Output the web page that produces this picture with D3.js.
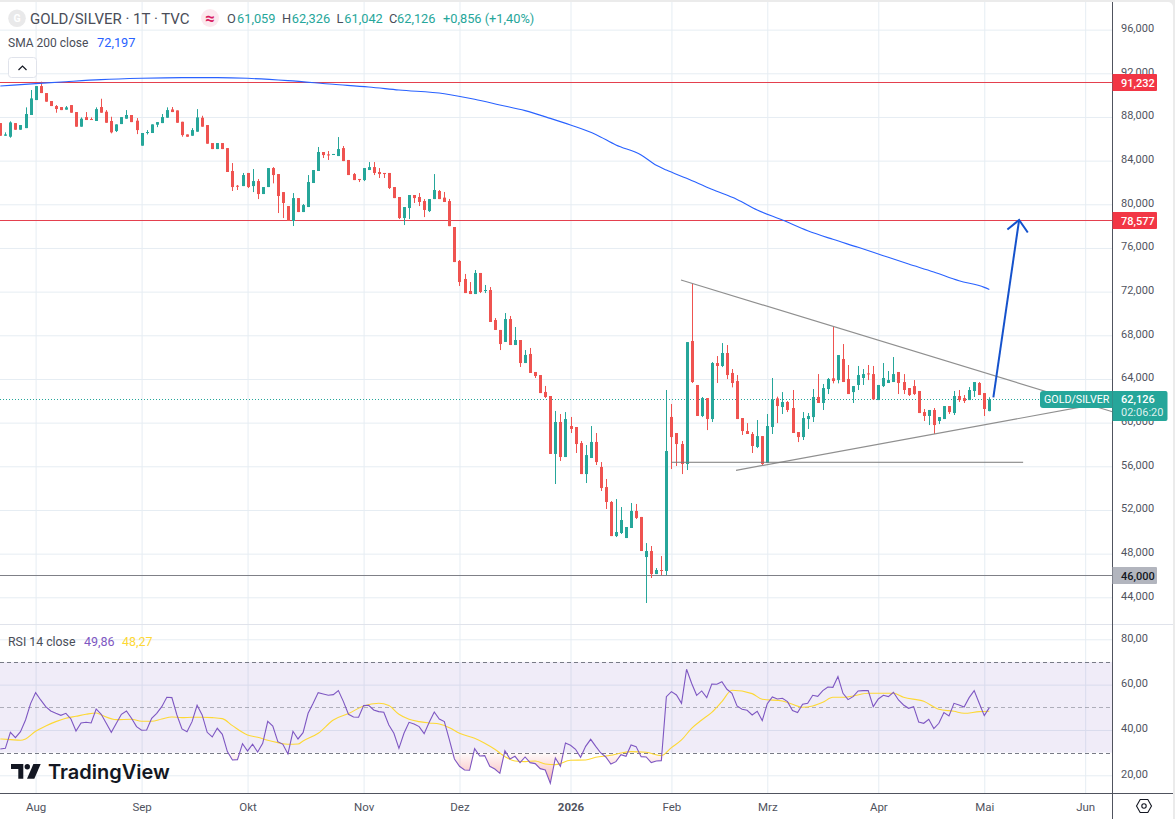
<!DOCTYPE html>
<html>
<head>
<meta charset="utf-8">
<script src="https://cdn.jsdelivr.net/npm/d3@7/dist/d3.min.js"></script>
<style>
  html, body { margin: 0; padding: 0; background: #ebebeb; overflow: hidden; }
  svg { display: block; }
  text { font-family: Roboto, "Liberation Sans", sans-serif; }
  .grid line { stroke: #e6edf3; stroke-width: 1; }
  .grid path { display: none; }
  .axis path { display: none; }
  .axis text { fill: #50535e; font-size: 11px; }
</style>
</head>
<body>
<div id="chart"></div>
<script>
// daily candles, oldest first
const opens = [
  87.44,86.28,86.19,87.44,86.83,86.98,88.18,89.55,90.83,90.19,
  89.46,89.0,88.91,88.67,89.09,88.45,87.11,87.99,87.81,87.63,
  88.91,88.48,87.63,86.71,87.35,87.84,88.18,87.66,85.37,86.56,
  86.53,87.29,87.44,87.93,88.69,88.6,87.56,86.4,86.28,86.65,
  87.93,87.26,85.61,85.06,85.61,85.15,83.05,81.7,81.67,82.87,
  81.67,82.13,80.94,81.58,83.32,82.77,81.12,79.84,78.47,80.57,
  79.29,79.75,81.95,83.05,84.79,84.57,84.54,84.42,85.15,84.06,
  82.77,82.32,82.22,83.14,83.41,82.96,82.87,82.87,81.58,80.67,
  78.74,79.66,80.85,80.67,80.3,79.38,80.48,81.22,80.61,80.3,
  77.92,74.81,73.16,72.06,71.78,73.71,72.09,72.15,69.4,68.49,
  67.39,69.49,67.11,67.57,65.46,66.29,64.64,64.36,62.81,62.44,
  57.13,60.06,56.85,59.69,59.6,58.13,55.29,56.76,58.23,55.94,
  54.1,52.73,49.61,49.89,49.43,50.35,51.91,51.36,47.69,48.24,
  46.13,46.5,46.41,60.52,59.05,58.04,56.21,67.48,63.45,60.61,
  62.25,60.33,65.46,65.19,66.38,64.55,63.81,60.42,59.23,58.96,
  57.77,58.77,56.3,59.6,62.22,61.43,61.89,61.34,59.14,58.68,
  60.33,60.51,62.35,61.8,63.08,64.06,63.9,65.83,64.0,62.8,
  63.45,64.09,64.51,64.45,62.07,63.35,63.63,63.72,64.64,63.72,
  63.17,63.35,62.9,60.97,60.61,61.16,60.15,60.33,61.52,60.88,
  62.44,62.25,62.07,62.9,63.63,62.71,61.059
];
const closes = [
  86.28,86.4,87.5,86.83,87.26,88.27,89.7,90.83,90.19,89.4,
  89.0,88.73,88.63,88.88,88.39,87.11,87.84,87.72,87.75,88.72,
  88.39,87.47,86.59,87.32,87.99,88.18,87.53,86.8,86.53,86.62,
  87.32,87.53,87.99,88.63,88.45,87.47,86.34,86.19,86.8,87.96,
  87.11,85.55,85.06,85.61,85.06,82.96,81.58,81.64,82.68,81.58,
  82.13,80.94,81.58,83.32,82.68,80.76,80.12,78.47,80.57,79.29,
  79.93,82.04,83.14,84.79,84.51,84.51,84.61,85.06,83.96,82.68,
  82.22,82.22,83.32,83.41,82.87,82.77,82.77,81.49,80.57,78.74,
  79.75,80.85,80.57,80.21,79.48,80.48,81.31,80.48,80.21,78.0,
  74.71,72.88,71.87,71.78,73.71,71.97,72.15,69.22,68.49,67.2,
  69.49,67.11,67.57,65.46,66.2,64.55,64.27,62.71,62.35,57.13,
  60.06,56.85,60.33,59.42,58.04,55.29,57.03,58.23,56.39,54.01,
  52.73,49.61,49.98,51.08,50.44,51.91,51.27,48.24,48.24,46.13,
  46.5,46.44,57.4,58.68,58.04,56.21,67.38,63.72,60.61,62.25,
  60.33,65.46,65.19,66.38,64.36,63.63,60.33,59.23,58.96,57.86,
  58.77,56.21,59.69,62.13,61.52,61.89,61.16,59.05,58.68,60.42,
  60.61,62.35,61.8,63.17,64.0,63.81,66.19,63.72,62.62,63.35,
  64.36,64.45,64.45,62.13,63.45,64.09,63.9,64.45,63.63,62.99,
  62.53,62.62,60.88,60.61,61.16,59.78,60.51,61.52,60.97,62.44,
  62.07,61.98,62.99,63.72,62.53,61.25,62.126
];
const highs = [
  87.44,86.59,87.6,87.44,87.26,88.88,90.47,90.83,91.23,90.19,
  89.46,89.09,88.91,89.0,89.09,88.45,87.96,88.45,87.96,88.88,
  89.67,88.63,88.02,87.32,87.99,88.63,88.18,87.9,86.53,86.8,
  87.32,87.53,88.27,88.88,88.91,88.6,87.56,86.4,86.98,88.72,
  88.11,87.26,85.61,85.61,85.61,85.15,83.78,81.77,82.87,82.87,
  83.23,82.32,81.58,83.32,83.41,82.77,81.12,79.84,81.03,80.57,
  80.03,82.68,83.14,85.25,84.79,84.88,84.61,86.16,85.34,84.06,
  82.87,82.32,83.32,83.87,83.87,83.32,82.87,82.87,81.58,80.67,
  79.75,80.85,80.85,81.03,80.48,80.48,82.77,81.31,81.13,80.49,
  77.92,74.9,73.62,72.88,73.98,73.71,72.61,72.42,69.58,68.49,
  70.04,69.77,68.76,67.57,66.65,66.84,64.64,64.36,63.36,62.44,
  61.07,60.79,60.97,60.52,59.6,58.32,57.95,59.69,59.05,56.39,
  54.84,52.82,53.0,52.27,50.44,52.64,52.55,51.36,48.97,48.7,
  46.68,47.78,62.99,61.71,59.05,58.32,67.38,72.76,63.45,62.35,
  62.25,65.55,66.1,67.29,67.11,64.91,64.36,60.42,59.96,59.14,
  60.24,58.77,60.79,64.09,62.38,62.8,61.98,62.99,59.14,60.97,
  60.88,63.08,64.45,63.54,64.09,68.79,66.19,67.2,65.28,63.35,
  65.19,64.91,65.28,65.19,63.45,65.46,64.73,66.01,64.64,64.45,
  63.17,63.9,62.9,61.25,61.16,61.34,60.51,61.52,61.52,62.9,
  62.99,62.53,63.26,63.72,63.72,62.71,62.326
];
const lows = [
  86.28,86.28,86.1,86.83,86.83,86.98,88.18,89.55,90.19,89.4,
  89.0,88.39,88.63,88.67,88.39,87.11,87.11,87.72,87.75,87.63,
  88.39,87.47,86.5,86.62,87.35,87.84,87.53,86.43,85.37,86.4,
  86.53,87.07,87.44,87.93,88.45,87.47,86.19,86.19,86.28,86.65,
  87.11,85.55,85.06,85.06,85.06,82.96,81.22,81.31,81.67,81.49,
  81.12,80.48,80.94,81.58,81.92,79.2,78.74,78.47,78.01,79.29,
  79.29,79.75,81.95,83.05,84.24,84.06,84.54,84.42,83.96,82.68,
  82.22,82.04,82.13,83.14,82.68,82.41,82.41,81.4,80.57,78.65,
  78.1,78.65,80.12,79.84,78.83,79.29,80.48,80.48,80.21,78.0,
  74.71,72.52,71.87,71.78,71.78,71.87,71.87,69.22,68.49,66.65,
  67.39,67.11,67.11,65.1,65.46,64.55,64.09,62.71,62.26,57.13,
  54.38,56.49,56.85,59.05,57.22,55.29,54.47,56.76,56.12,53.74,
  52.09,49.61,49.52,49.8,49.43,50.35,51.17,48.24,43.48,45.77,
  46.13,46.04,46.04,55.75,56.03,55.29,55.66,63.63,60.61,60.51,
  59.32,60.06,63.63,65.09,63.99,63.23,60.33,58.87,58.96,57.22,
  57.67,56.12,56.3,58.96,59.96,60.79,60.97,59.05,58.22,58.41,
  59.42,60.06,61.8,61.16,62.62,63.6,63.6,63.72,62.62,61.8,
  62.99,63.45,63.9,62.13,62.07,63.26,63.63,63.72,62.62,62.62,
  62.44,62.53,60.88,60.15,59.78,58.96,59.87,60.33,60.79,60.7,
  61.89,61.8,62.07,62.35,62.53,60.61,61.042
];

// SMA 200, read at these bars
const smaIndex = [0,7,13,20,28,36,43,49,57,66,73,79,88,94,99,104,109,113,118,122,127,130,132,136,141,146,150,155,160,165,170,175,180,185,190,195,196];
const smaValues = [90.84,91.05,91.23,91.42,91.54,91.6,91.6,91.54,91.33,90.99,90.75,90.47,90.13,89.62,89.1,88.58,87.87,87.26,86.4,85.43,84.52,83.57,83.14,82.38,81.37,80.45,79.48,78.56,77.58,76.79,76.06,75.29,74.53,73.8,73.0,72.39,72.197];

// RSI 14, one per bar
const rsiValues = [
  31.62,31.91,38.97,36.62,39.26,44.41,51.62,56.47,53.24,50.29,
  48.38,47.35,46.47,47.35,44.85,39.56,43.09,43.38,43.09,49.26,
  46.91,42.94,38.97,42.94,46.91,48.38,45.15,41.47,39.85,40.0,
  45.15,47.35,50.29,54.41,54.26,46.62,40.44,39.26,43.68,50.88,
  46.62,38.97,36.91,40.74,38.09,30.44,26.76,26.91,33.97,30.74,
  33.68,30.29,34.12,43.82,41.76,34.85,33.68,29.41,39.41,36.03,
  38.82,47.35,51.76,56.47,55.88,55.29,55.59,57.35,52.5,46.91,
  45.74,45.59,50.74,50.88,48.82,48.09,47.79,42.21,38.53,31.91,
  38.53,43.38,42.65,41.47,38.38,43.38,47.94,44.85,43.68,35.59,
  27.21,23.97,22.35,22.21,31.76,28.53,28.68,23.97,22.79,20.88,
  30.88,27.21,28.38,25.59,28.09,25.59,25.15,22.94,22.35,16.47,
  27.65,23.97,34.26,33.24,31.47,27.94,32.79,35.88,32.79,29.85,
  28.09,25.0,26.03,29.12,28.38,33.38,32.65,28.24,28.09,25.59,
  26.32,26.47,54.71,56.91,55.44,51.76,66.76,60.59,55.29,57.21,
  54.26,60.29,60.15,61.32,57.94,56.18,50.59,49.12,48.68,46.62,
  48.24,44.12,51.62,54.56,53.68,53.97,52.5,48.53,47.65,51.32,
  51.76,55.29,54.85,57.35,58.97,58.82,63.53,56.18,53.38,54.71,
  57.21,57.35,57.35,50.29,53.68,55.29,54.71,56.62,53.24,51.03,
  49.56,50.29,43.53,42.94,44.71,40.59,42.94,47.65,46.18,51.76,
  51.03,50.15,54.26,57.35,51.76,46.32,49.86
];
// RSI-based MA, read at these bars
const rsiMaIndex = [0,2,4,5,7,9,11,13,15,17,19,20,23,26,28,30,32,34,36,38,40,42,44,46,49,51,53,55,57,59,60,63,66,69,72,75,77,79,81,83,85,87,89,91,94,96,98,100,102,104,106,108,110,113,116,118,121,123,125,128,131,133,135,137,139,141,143,145,149,151,155,157,159,161,163,165,167,169,172,174,177,179,183,186,189,191,194,196];
const rsiMaValues = [36.03,35.74,35.44,36.03,39.41,41.76,43.68,45.15,46.03,46.91,47.5,46.62,44.56,44.71,43.82,43.82,44.85,45.74,45.44,45.59,45.59,45.44,45.0,41.91,37.79,36.76,35.44,34.41,33.68,33.82,35.15,38.53,44.41,47.21,50.59,51.76,50.74,46.91,44.71,43.68,43.09,42.65,41.03,38.53,36.32,34.12,31.47,28.24,26.32,26.03,26.32,25.0,24.71,26.62,26.76,27.94,28.82,29.85,30.44,30.15,28.68,32.21,35.59,40.74,44.41,47.79,52.5,57.5,56.03,53.53,52.79,51.32,50.0,50.59,52.21,54.41,54.41,55.0,56.18,56.18,56.18,54.41,52.65,49.12,48.24,47.35,48.09,48.27];

const priceTicks = [96,92,88,84,80,76,72,68,64,60,56,52,48,44];
const rsiTicks = [80,60,40,20];
const rsiBands = [70,50,30];
const monthIndex = [7,28,49,72,91,113,133,152,174,195,215];
const monthLabels = ['Aug','Sep','Okt','Nov','Dez','2026','Feb','Mrz','Apr','Mai','Jun'];

// horizontal levels drawn on the chart
const levelValues = [91.232,78.577,46.0];
const levelColors = ['#e4404e','#e4404e','#7f8087'];

const lastPrice = closes[closes.length - 1];
const lastSma = smaValues[smaValues.length - 1];
const lastRsi = rsiValues[rsiValues.length - 1];
const lastRsiMa = rsiMaValues[rsiMaValues.length - 1];

// trend lines, [bar index, price]
const upperTrend = [[134.9,73.07],[220.4,61.0]];
const lowerTrend = [[145.8,55.63],[217.3,61.69]];
const supportLine = [[133,56.37],[202.7,56.37]];
const arrowLine = [[196.8,62.32],[201.9,78.56]];

const W = 1175, H = 819, paneRight = 1112.5, axisY = 793.5;
const teal = '#26a69a', red = '#ef5350', grey = '#4a4d58';

const comma = d3.formatLocale({ decimal: ',', thousands: '.', grouping: [3], currency: ['', ''] });
const fmt3 = comma.format('.3f');
const fmt2 = comma.format('.2f');

const x = d3.scaleLinear().domain([0, 215]).range([0.3, 1085.2]);
const y = d3.scaleLinear().domain([96, 44]).range([29.63, 597.31]);
const yRsi = d3.scaleLinear().domain([80, 20]).range([639.3, 775.3]);

const svg = d3.select('#chart').append('svg').attr('width', W).attr('height', H);

svg.append('rect').attr('x', -6).attr('y', 2).attr('width', W - 2 + 6).attr('height', H + 6)
  .attr('rx', 5).attr('fill', '#fff');

// grid
svg.append('g').attr('class', 'grid').attr('transform', `translate(0,${axisY})`)
  .call(d3.axisTop(x).tickValues(monthIndex).tickSizeInner(axisY - 2).tickSizeOuter(0).tickFormat(''));
svg.append('g').attr('class', 'grid').attr('transform', `translate(${paneRight},0)`)
  .call(d3.axisLeft(y).tickValues(priceTicks).tickSizeInner(paneRight).tickSizeOuter(0).tickFormat(''));
svg.append('g').attr('class', 'grid').attr('transform', `translate(${paneRight},0)`)
  .call(d3.axisLeft(yRsi).tickValues(rsiTicks).tickSizeInner(paneRight).tickSizeOuter(0).tickFormat(''));

// pane separator
svg.append('line').attr('x1', 0).attr('x2', W - 2).attr('y1', 624.5).attr('y2', 624.5)
  .attr('stroke', '#e0e3eb');

// level lines
svg.append('g').selectAll('line').data(levelValues).join('line')
  .attr('x1', 0).attr('x2', paneRight)
  .attr('y1', (d) => Math.round(y(d)) + 0.5).attr('y2', (d) => Math.round(y(d)) + 0.5)
  .attr('stroke', (d, i) => levelColors[i]).attr('stroke-width', 1);

// last price dotted line
svg.append('line').attr('x1', 0).attr('x2', paneRight)
  .attr('y1', Math.round(y(lastPrice)) + 0.5).attr('y2', Math.round(y(lastPrice)) + 0.5)
  .attr('stroke', teal).attr('stroke-dasharray', '1 2');

// candles
const candles = svg.append('g').selectAll('g').data(opens).join('g')
  .attr('fill', (d, i) => (closes[i] >= d ? teal : red));
candles.append('rect')
  .attr('x', (d, i) => Math.round(x(i)))
  .attr('width', 1)
  .attr('y', (d, i) => y(highs[i]))
  .attr('height', (d, i) => y(lows[i]) - y(highs[i]));
candles.append('rect')
  .attr('x', (d, i) => Math.round(x(i)) - 1)
  .attr('width', 3)
  .attr('y', (d, i) => y(Math.max(d, closes[i])))
  .attr('height', (d, i) => Math.max(1, Math.abs(y(d) - y(closes[i]))));

// SMA 200
svg.append('path').datum(smaIndex)
  .attr('fill', 'none').attr('stroke', '#2962ff').attr('stroke-width', 1.1)
  .attr('d', d3.line().curve(d3.curveMonotoneX).x((d) => x(d)).y((d, i) => y(smaValues[i])));

// drawings
const lineGen = d3.line().x((d) => x(d[0])).y((d) => y(d[1]));
const drawings = svg.append('g').attr('fill', 'none');
drawings.append('path').attr('d', lineGen(upperTrend)).attr('stroke', '#8f8f8f').attr('stroke-width', 1.2);
drawings.append('path').attr('d', lineGen(lowerTrend)).attr('stroke', '#8f8f8f').attr('stroke-width', 1.2);
drawings.append('path').attr('d', lineGen(supportLine)).attr('stroke', '#7a7a7a').attr('stroke-width', 1);
const tip = [x(arrowLine[1][0]), y(arrowLine[1][1])];
drawings.append('path').attr('d', lineGen(arrowLine)).attr('stroke', '#1552cc').attr('stroke-width', 2);
drawings.append('path')
  .attr('d', `M${tip[0] - 11.7},${tip[1] + 9.5}L${tip[0]},${tip[1]}L${tip[0] + 8.7},${tip[1] + 12.5}`)
  .attr('stroke', '#1552cc').attr('stroke-width', 2);

// RSI band
svg.append('rect').attr('x', 0).attr('width', paneRight)
  .attr('y', yRsi(70)).attr('height', yRsi(30) - yRsi(70))
  .attr('fill', '#7e57c2').attr('fill-opacity', 0.115);
svg.append('g').selectAll('line').data(rsiBands).join('line')
  .attr('x1', 0).attr('x2', paneRight)
  .attr('y1', (d) => Math.round(yRsi(d)) + 0.5).attr('y2', (d) => Math.round(yRsi(d)) + 0.5)
  .attr('stroke', '#787b86').attr('stroke-dasharray', '4 3')
  .attr('stroke-opacity', (d) => (d === 50 ? 0.55 : 1));

// oversold fill
const grad = svg.append('defs').append('linearGradient').attr('id', 'oversold')
  .attr('gradientUnits', 'userSpaceOnUse')
  .attr('x1', 0).attr('x2', 0).attr('y1', yRsi(30)).attr('y2', yRsi(17));
grad.append('stop').attr('offset', 0).attr('stop-color', '#ef5350').attr('stop-opacity', 0.02);
grad.append('stop').attr('offset', 1).attr('stop-color', '#ef5350').attr('stop-opacity', 0.42);
svg.append('path').datum(rsiValues).attr('fill', 'url(#oversold)')
  .attr('d', d3.area().x((d, i) => x(i)).y0(yRsi(30)).y1((d) => yRsi(Math.min(d, 30))));

// RSI MA and RSI
svg.append('path').datum(rsiMaIndex)
  .attr('fill', 'none').attr('stroke', '#fdd835').attr('stroke-width', 1.1)
  .attr('d', d3.line().curve(d3.curveMonotoneX).x((d) => x(d)).y((d, i) => yRsi(rsiMaValues[i])));
svg.append('path').datum(rsiValues)
  .attr('fill', 'none').attr('stroke', '#7e57c2').attr('stroke-width', 1.1)
  .attr('d', d3.line().x((d, i) => x(i)).y((d) => yRsi(d)));

// axes
const priceAxis = svg.append('g').attr('class', 'axis').attr('transform', `translate(${paneRight},0)`)
  .call(d3.axisRight(y).tickValues(priceTicks).tickSize(0).tickPadding(8.5).tickFormat(fmt3));
const rsiAxis = svg.append('g').attr('class', 'axis').attr('transform', `translate(${paneRight},0)`)
  .call(d3.axisRight(yRsi).tickValues(rsiTicks).tickSize(0).tickPadding(8.5).tickFormat(fmt2));
priceAxis.selectAll('text').attr('dy', '0.18em');
rsiAxis.selectAll('text').attr('dy', '0.18em');
const timeAxis = svg.append('g').attr('class', 'axis').attr('transform', `translate(0,${axisY})`)
  .call(d3.axisBottom(x).tickValues(monthIndex).tickSize(0).tickPadding(9)
    .tickFormat((d, i) => monthLabels[i]));
timeAxis.selectAll('text').style('font-size', '11.5px');
timeAxis.selectAll('text').filter((d, i) => monthLabels[i] === '2026').attr('font-weight', 700);

svg.append('line').attr('x1', paneRight).attr('x2', paneRight).attr('y1', 2).attr('y2', H)
  .attr('stroke', '#50535e');
svg.append('line').attr('x1', 0).attr('x2', W - 2).attr('y1', axisY).attr('y2', axisY)
  .attr('stroke', '#50535e');

// price labels on the axis
function priceTag(value, bg, fg) {
  const yy = Math.round(y(value)) + 0.5;
  svg.append('path')
    .attr('d', `M${paneRight},${yy - 8.5}h43.5q1,0 1,1v15q0,1 -1,1h-43.5z`)
    .attr('fill', bg);
  svg.append('text').attr('x', paneRight + 8.5).attr('y', yy + 4)
    .attr('fill', fg).attr('font-size', 11).attr('font-weight', 500).text(fmt3(value));
}
priceTag(levelValues[0], '#f23645', '#fff');
priceTag(levelValues[1], '#f23645', '#fff');
priceTag(levelValues[2], '#b2b5be', '#131722');

// last price label
svg.append('path').attr('d', `M1043,391h${paneRight - 1043}v17h-${paneRight - 1043}q-3,0 -3,-3v-11q0,-3 3,-3z`).attr('fill', teal);
svg.append('text').attr('x', 1044).attr('y', 403.3).attr('fill', '#fff').attr('font-size', 10.7).text('GOLD/SILVER');
svg.append('path').attr('d', `M${paneRight},391h53q2,0 2,2v26q0,2 -2,2h-53z`).attr('fill', teal);
svg.append('text').attr('x', paneRight + 8.5).attr('y', 403.3).attr('fill', '#fff').attr('font-size', 11).attr('font-weight', 500).text(fmt3(lastPrice));
svg.append('text').attr('x', paneRight + 8.5).attr('y', 416.3).attr('fill', '#fff').attr('fill-opacity', 0.85).attr('font-size', 11).text('02:06:20');

// header legend
svg.append('circle').attr('cx', 17).attr('cy', 18.3).attr('r', 8.8).attr('fill', '#e9e9ea');
svg.append('text').attr('x', 17).attr('y', 22).attr('text-anchor', 'middle').attr('fill', '#fff').attr('font-size', 10.5).attr('font-weight', 700).text('G');
svg.append('text').attr('x', 30).attr('y', 23.5).attr('fill', grey).attr('font-size', 15).text('GOLD/SILVER · 1T · TVC');
svg.append('circle').attr('cx', 210).attr('cy', 18).attr('r', 9).attr('fill', '#fce8ee');
svg.append('text').attr('x', 210).attr('y', 23.5).attr('text-anchor', 'middle').attr('fill', '#d81b60').attr('font-size', 17).attr('font-weight', 700).text('≈');

const ohlcLabels = ['O', 'H', 'L', 'C'];
const ohlcValues = [opens[196], highs[196], lows[196], closes[196]];
const ohlcX = [227, 282, 336.5, 389];
const ohlcValueX = [237, 291.7, 344.3, 397];
ohlcLabels.forEach((d, i) => {
  svg.append('text').attr('x', ohlcX[i]).attr('y', 23).attr('font-size', 12.8).attr('fill', grey).text(d);
  svg.append('text').attr('x', ohlcValueX[i]).attr('y', 23).attr('font-size', 12.8).attr('fill', teal).text(fmt3(ohlcValues[i]));
});
svg.append('text').attr('x', 443).attr('y', 23).attr('font-size', 12.8).attr('fill', teal).text('+0,856 (+1,40%)');

svg.append('text').attr('x', 8).attr('y', 47).attr('font-size', 12).attr('fill', grey).text('SMA 200 close');
svg.append('text').attr('x', 97).attr('y', 47).attr('font-size', 12.8).attr('fill', '#2962ff').text(fmt3(lastSma));

// collapse button
svg.append('rect').attr('x', 8.5).attr('y', 57.5).attr('width', 28).attr('height', 20).attr('rx', 3)
  .attr('fill', '#fff').attr('stroke', '#e0e3eb');
svg.append('path').attr('d', 'M18.5,70L22.5,66L26.5,70').attr('fill', 'none').attr('stroke', '#131722').attr('stroke-width', 1.2);

svg.append('text').attr('x', 8).attr('y', 646).attr('font-size', 12.3).attr('fill', grey).text('RSI 14 close');
svg.append('text').attr('x', 84).attr('y', 646).attr('font-size', 12.5).attr('fill', '#7e57c2').text(fmt2(lastRsi));
svg.append('text').attr('x', 122).attr('y', 646).attr('font-size', 12.5).attr('fill', '#fdd835').text(fmt2(lastRsiMa));

// TradingView logo
const logo = svg.append('g').attr('fill', '#131722');
logo.append('path').attr('d', 'M11,764H23.3V778.7H18.3V769H11Z');
logo.append('circle').attr('cx', 27.3).attr('cy', 766.8).attr('r', 2.7);
logo.append('path').attr('d', 'M40.7,764L34.3,778.7H27L33.4,764Z');
logo.append('text').attr('x', 48).attr('y', 778.5).attr('font-size', 20).attr('font-weight', 600)
  .style('font-family', 'Inter').text('TradingView');

// settings icon
svg.append('path').attr('d', 'M1136.5,806L1140.2,799.5H1147.8L1151.5,806L1147.8,812.5H1140.2Z')
  .attr('fill', 'none').attr('stroke', '#131722').attr('stroke-width', 1.1);
svg.append('circle').attr('cx', 1144).attr('cy', 806).attr('r', 2.2)
  .attr('fill', 'none').attr('stroke', '#131722').attr('stroke-width', 1.1);
</script>
</body>
</html>
